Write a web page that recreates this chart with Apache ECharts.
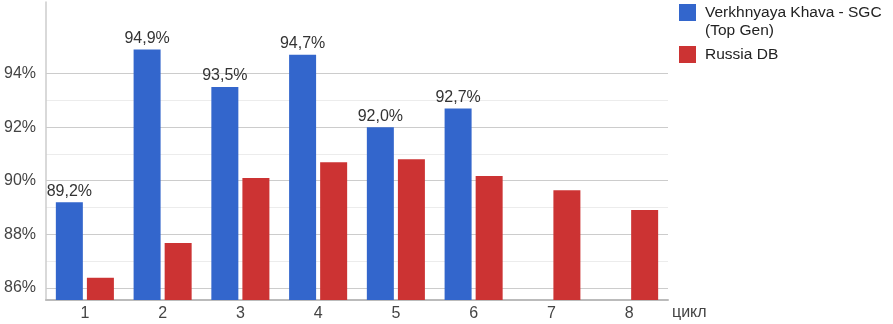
<!DOCTYPE html>
<html>
<head>
<meta charset="utf-8">
<script src="https://cdn.jsdelivr.net/npm/echarts@6/dist/echarts.min.js"></script>
<style>
  html, body { margin: 0; padding: 0; background: #fff; }
  #chart { width: 893px; height: 324px; }
</style>
</head>
<body>
<div id="chart"></div>
<script>
// Cycle numbers on the x axis
const categories = ['1', '2', '3', '4', '5', '6', '7', '8'];
// Share of correct genotypes per cycle, %
const farmValues = [89.2, 94.9, 93.5, 94.7, 92.0, 92.7, '-', '-'];
const russiaValues = [86.38, 87.68, 90.10, 90.69, 90.80, 90.18, 89.65, 88.91];
// Y axis labelled values and gridlines
const yTicks = [86, 88, 90, 92, 94];
const yMinorTicks = [87, 89, 91, 93];

const seriesNames = ['Verkhnyaya Khava - SGC (Top Gen)', 'Russia DB'];
const FONT = 'Arial, "Liberation Sans", sans-serif';

const gridLines = yTicks.map(v => ({ yAxis: v, lineStyle: { color: '#cccccc', width: 1, type: 'solid' } }))
  .concat(yMinorTicks.map(v => ({ yAxis: v, lineStyle: { color: '#ececec', width: 1, type: 'solid' } })));

const chart = echarts.init(document.getElementById('chart'));
chart.setOption({
  animation: false,
  textStyle: { fontFamily: FONT },
  grid: { left: 46, right: 225, top: 2, bottom: 24, containLabel: false },
  legend: [
    {
      data: [seriesNames[0]],
      left: 679, top: 4, padding: 0, orient: 'vertical',
      itemWidth: 17, itemHeight: 36,
      icon: 'path://M0,0H17V17H0ZM0,35.9L0.01,36L0,36Z',
      formatter: n => n.replace(' (', '\n('),
      textStyle: { fontSize: 15.5, color: '#222', lineHeight: 18, padding: [0, 0, 0, 4], fontFamily: FONT },
      selectedMode: false
    },
    {
      data: [seriesNames[1]],
      left: 679, top: 46, padding: 0, orient: 'vertical',
      itemWidth: 17, itemHeight: 17, icon: 'rect',
      textStyle: { fontSize: 15.5, color: '#222', padding: [0, 0, 0, 4], fontFamily: FONT },
      selectedMode: false
    }
  ],
  xAxis: {
    type: 'category',
    data: categories,
    name: 'цикл',
    nameLocation: 'end',
    nameGap: 4,
    nameTextStyle: { fontSize: 16, color: '#444', verticalAlign: 'top', align: 'left', padding: [5, 0, 0, 0], fontFamily: FONT },
    axisLine: { show: true, lineStyle: { color: '#bbbbbb', width: 2 } },
    axisTick: { show: false },
    axisLabel: { fontSize: 16, color: '#444', margin: 6, fontFamily: FONT },
    splitLine: { show: false }
  },
  yAxis: {
    type: 'value',
    min: 85.55,
    max: 96.67,
    axisLine: { show: true, lineStyle: { color: '#cccccc', width: 1.5 } },
    axisTick: { show: false, customValues: yTicks },
    axisLabel: { customValues: yTicks, fontSize: 16, color: '#444', margin: 10, fontFamily: FONT, formatter: v => v + '%' },
    splitLine: { show: false }
  },
  series: [
    {
      name: 'grid',
      type: 'line',
      data: [],
      silent: true,
      z: 0,
      markLine: {
        silent: true, z: 0, symbol: 'none',
        label: { show: false },
        data: gridLines
      }
    },
    {
      name: seriesNames[0],
      type: 'bar',
      data: farmValues,
      barWidth: 27,
      barGap: '15%',
      z: 2,
      itemStyle: { color: '#3366cc' },
      label: {
        show: true, position: 'top', distance: 3,
        fontSize: 16, color: '#333', fontFamily: FONT,
        formatter: p => p.value.toFixed(1).replace('.', ',') + '%'
      }
    },
    {
      name: seriesNames[1],
      type: 'bar',
      data: russiaValues,
      barWidth: 27,
      barGap: '15%',
      z: 2,
      itemStyle: { color: '#cc3333' }
    }
  ]
});
</script>
</body>
</html>
